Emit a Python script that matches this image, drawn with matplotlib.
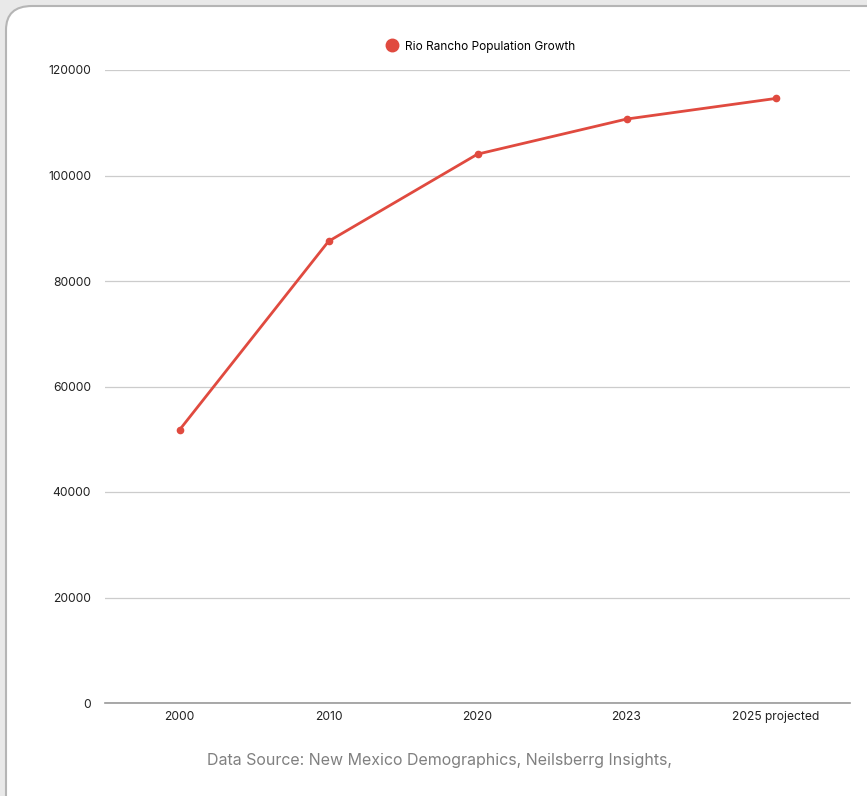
import matplotlib.pyplot as plt
from matplotlib.patches import FancyBboxPatch

plt.rcParams['font.family'] = ['Inter', 'DejaVu Sans']

# 人口数据
years = ['2000', '2010', '2020', '2023', '2025 projected']
population = [51765, 87521, 104046, 110700, 114600]
series_name = 'Rio Rancho Population Growth'
source_text = 'Data Source: New Mexico Demographics, Neilsberrg Insights,'

fig = plt.figure(figsize=(8.67, 7.96), dpi=100)
fig.patch.set_facecolor('#e9e9e9')

# 白色圆角卡片
card = FancyBboxPatch((6 / 867, -30 / 796), 900 / 867, 820 / 796,
                      boxstyle='round,pad=0,rounding_size=0.03',
                      transform=fig.transFigure, facecolor='white',
                      edgecolor='#b5b5b5', linewidth=1.5, zorder=-5)
fig.patches.append(card)

ax = fig.add_axes([105 / 867, 93 / 796, 745 / 867, 633 / 796])
ax.set_facecolor('none')
ax.set_zorder(2)

x = list(range(len(years)))
ax.plot(x, population, color='#e04a3f', linewidth=2.0, marker='o',
        markersize=4.5, label=series_name, zorder=3)

ax.set_xlim(-0.5, len(years) - 0.5)
ax.set_ylim(0, 120000)
ax.set_yticks(range(0, 120001, 20000))
ax.set_xticks(x)
ax.set_xticklabels(years)
ax.tick_params(axis='both', length=0, labelsize=8.7, colors='#222222')
ax.tick_params(axis='y', pad=10)
ax.tick_params(axis='x', pad=6)
ax.grid(axis='y', color='#cccccc', linewidth=0.9)
ax.set_axisbelow(True)
for s in ['top', 'right', 'left']:
    ax.spines[s].set_visible(False)
ax.spines['bottom'].set_color('#999999')
ax.spines['bottom'].set_linewidth(1.2)

ax.legend(handles=[plt.Line2D([], [], marker='o', linestyle='none',
                              color='#e04a3f', markersize=9)],
          labels=[series_name], loc='lower center',
          bbox_to_anchor=(0.5, 1.02), frameon=False, fontsize=8.5,
          handletextpad=0.1, borderaxespad=0)

fig.text(440 / 867, 1 - 760 / 796, source_text, ha='center', va='center',
         fontsize=11.5, color='#808080')

plt.savefig('out.png', dpi=100, facecolor=fig.get_facecolor())
